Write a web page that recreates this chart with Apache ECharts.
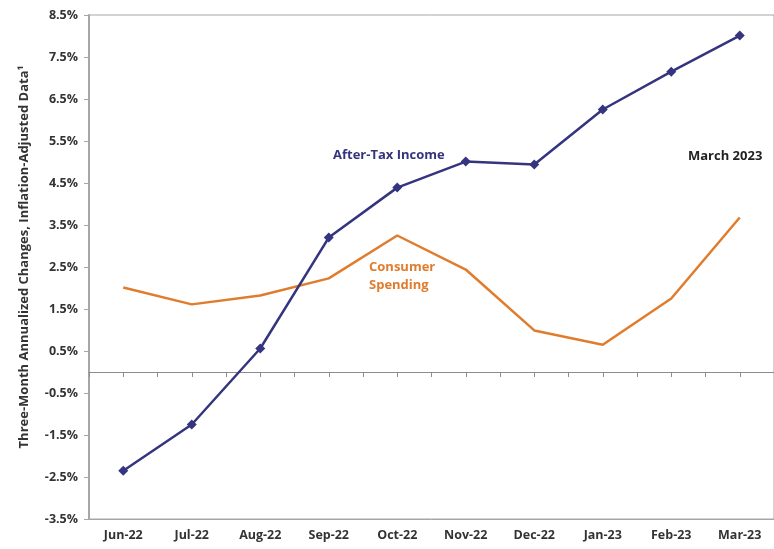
<!DOCTYPE html>
<html><head><meta charset="utf-8">
<script src="https://cdn.jsdelivr.net/npm/echarts@6/dist/echarts.min.js"></script>
<style>html,body{margin:0;padding:0;background:#fff}#c{width:774px;height:549px}</style>
</head><body><div id="c"></div>
<script>
const categories = ['Jun-22','Jul-22','Aug-22','Sep-22','Oct-22','Nov-22','Dec-22','Jan-23','Feb-23','Mar-23'];
const afterTaxIncome = [-2.35, -1.25, 0.56, 3.2, 4.39, 5.01, 4.94, 6.25, 7.15, 8.01];
const consumerSpending = [2.01, 1.61, 1.82, 2.23, 3.25, 2.44, 0.99, 0.65, 1.75, 3.68];
const yTicks = [-3.5,-2.5,-1.5,-0.5,0.5,1.5,2.5,3.5,4.5,5.5,6.5,7.5,8.5];
// half-band slots for the zero-line tick marks (centres + boundaries)
const halfSlots = categories.flatMap(c => [c + 'a', c + 'b']);

const FONT = '"Open Sans", "Liberation Sans", sans-serif';
const NAVY = '#35347f';
const ORANGE = '#e07c2c';
const chart = echarts.init(document.getElementById('c'), null, {renderer:'canvas'});
chart.setOption({
  animation: false,
  backgroundColor: '#fff',
  grid: {left: 89, top: 15, width: 688, height: 504, show: true, borderColor: '#a6a6a6', borderWidth: 1},
  xAxis: [
    {type:'category', data: categories, boundaryGap: true, position:'bottom',
     axisLine:{show:true, onZero:false, lineStyle:{color:'#a6a6a6', width:1}},
     axisTick:{show:false},
     axisLabel:{color:'#333', fontFamily: FONT, fontWeight:'bold', fontSize:12.5, margin: 10}},
    {type:'category', data: halfSlots, boundaryGap: true, position:'bottom',
     axisLine:{show:true, onZero:true, lineStyle:{color:'#8c8c8c', width:1}},
     axisTick:{show:true, alignWithLabel:false, interval:0, length:5, lineStyle:{color:'#8c8c8c'}},
     axisLabel:{show:false}}
  ],
  yAxis: {
    type:'value', min: yTicks[0], max: yTicks[yTicks.length-1], interval: 1,
    splitLine:{show:false},
    axisLine:{show:true, lineStyle:{color:'#a6a6a6', width:2}},
    axisTick:{show:true, length:5, lineStyle:{color:'#a6a6a6'}},
    axisLabel:{color:'#333', fontFamily: FONT, fontWeight:'bold', fontSize:12.5, margin: 11,
      formatter: v => v.toFixed(1) + '%'},
    name: 'Three-Month Annualized Changes, Inflation-Adjusted Data¹',
    nameLocation: 'middle', nameRotate: 90, nameGap: 58,
    nameTextStyle:{color:'#333', fontFamily: FONT, fontWeight:'bold', fontSize:13, padding:[0,0,0,20]}
  },
  series: [
    {name:'Consumer Spending', type:'line', data: consumerSpending, xAxisIndex:0,
     symbol:'none', lineStyle:{color: ORANGE, width:2.5}, itemStyle:{color: ORANGE}},
    {name:'After-Tax Income', type:'line', data: afterTaxIncome, xAxisIndex:0,
     symbol:'diamond', symbolSize:10, lineStyle:{color: NAVY, width:2.5}, itemStyle:{color: NAVY}}
  ],
  graphic: [
    {type:'text', left: 333, top: 149, style:{text:'After-Tax Income', fill: NAVY, font: 'bold 13px ' + FONT}},
    {type:'text', left: 369, top: 258, style:{text:'Consumer\nSpending', fill: ORANGE, font: 'bold 13px ' + FONT, lineHeight: 18, align:'left'}},
    {type:'text', left: 688, top: 150, style:{text:'March 2023', fill: '#222', font: 'bold 13px ' + FONT}}
  ]
});
</script></body></html>
